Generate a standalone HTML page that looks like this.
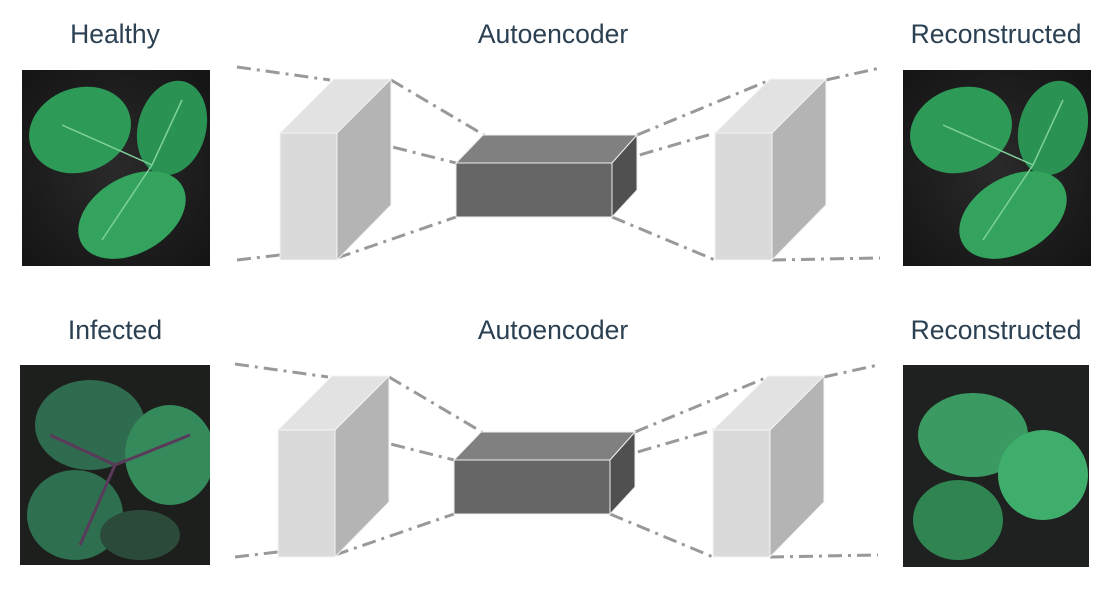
<!DOCTYPE html>
<html><head><meta charset="utf-8"><style>
body{margin:0;background:#fff;width:1118px;height:592px;overflow:hidden;font-family:"Liberation Sans",sans-serif}
</style></head><body>
<svg width="1118" height="592" viewBox="0 0 1118 592">
<defs>
<radialGradient id="bg1" cx="50%" cy="50%" r="70%"><stop offset="0" stop-color="#2a2a2a"/><stop offset="1" stop-color="#141414"/></radialGradient>
<clipPath id="c188"><rect width="188" height="196"/></clipPath>
<clipPath id="c190"><rect width="190" height="200"/></clipPath>
<clipPath id="c186"><rect width="186" height="202"/></clipPath>
<g id="leafH" clip-path="url(#c188)">
 <rect width="188" height="196" fill="url(#bg1)"/>
 <ellipse cx="58" cy="60" rx="52" ry="42" transform="rotate(-20 58 60)" fill="#2e9a58"/>
 <ellipse cx="150" cy="58" rx="34" ry="48" transform="rotate(15 150 58)" fill="#2a9354"/>
 <ellipse cx="110" cy="145" rx="58" ry="38" transform="rotate(-30 110 145)" fill="#33a35e"/>
 <path d="M130 95 L40 55 M130 95 L160 30 M130 95 L80 170" stroke="#7fd09a" stroke-width="1.5"/>
</g>
<g id="leafI" clip-path="url(#c190)">
 <rect width="190" height="200" fill="#1d1f1d"/>
 <ellipse cx="70" cy="60" rx="55" ry="45" fill="#2f6b4e"/>
 <ellipse cx="150" cy="90" rx="45" ry="50" fill="#348a5a"/>
 <ellipse cx="55" cy="150" rx="48" ry="45" fill="#2e6f50"/>
 <ellipse cx="120" cy="170" rx="40" ry="25" fill="#2b4a3a"/>
 <path d="M95 100 L30 70 M95 100 L170 70 M95 100 L60 180" stroke="#5a3a5a" stroke-width="3"/>
</g>
<g id="leafR2" clip-path="url(#c186)">
 <rect width="186" height="202" fill="#1e211f"/>
 <ellipse cx="70" cy="70" rx="55" ry="42" fill="#3a9a62"/>
 <ellipse cx="140" cy="110" rx="45" ry="45" fill="#3fae6c"/>
 <ellipse cx="55" cy="155" rx="45" ry="40" fill="#2f8452"/>
</g>
<g id="net">
 <g stroke="#999" stroke-width="3" stroke-dasharray="14 6 3 6" fill="none">
  <line x1="237" y1="67" x2="330" y2="80"/>
  <line x1="391" y1="80" x2="484" y2="135"/>
  <line x1="337" y1="133" x2="456" y2="163"/>
  <line x1="237" y1="260" x2="280" y2="255"/>
  <line x1="337" y1="258" x2="456" y2="217"/>
  <line x1="637" y1="135" x2="770" y2="80"/>
  <line x1="612" y1="163" x2="715" y2="133"/>
  <line x1="612" y1="217" x2="715" y2="260"/>
  <line x1="772" y1="260" x2="880" y2="258"/>
  <line x1="826" y1="80" x2="880" y2="68"/>
 </g>
 <polygon points="280,133 334,79 391,79 337,133" fill="#e2e2e2" stroke="#f4f4f4"/>
 <polygon points="337,133 391,79 391,205 337,260" fill="#b4b4b4" stroke="#f4f4f4"/>
 <rect x="280" y="133" width="57" height="127" fill="#dadada" stroke="#f4f4f4"/>
 <polygon points="456,163 483,135 637,135 612,163" fill="#808080" stroke="#eee"/>
 <polygon points="612,163 637,135 637,190 612,217" fill="#505050" stroke="#eee"/>
 <rect x="456" y="163" width="156" height="54" fill="#666" stroke="#eee"/>
 <polygon points="715,133 770,79 826,79 772,133" fill="#e2e2e2" stroke="#f4f4f4"/>
 <polygon points="772,133 826,79 826,205 772,260" fill="#b4b4b4" stroke="#f4f4f4"/>
 <rect x="715" y="133" width="57" height="127" fill="#dadada" stroke="#f4f4f4"/>
</g>
</defs>
<g font-size="26.5" fill="#2b4052" text-anchor="middle">
 <text x="115" y="43">Healthy</text>
 <text x="553" y="43">Autoencoder</text>
 <text x="996" y="43">Reconstructed</text>
 <text x="115" y="339">Infected</text>
 <text x="553" y="339">Autoencoder</text>
 <text x="996" y="339">Reconstructed</text>
</g>
<use href="#leafH" x="22" y="70"/>
<use href="#leafH" x="903" y="70"/>
<use href="#leafI" x="20" y="365"/>
<use href="#leafR2" x="903" y="365"/>
<use href="#net" x="0" y="0"/>
<use href="#net" x="-2" y="297"/>
</svg>
</body></html>
